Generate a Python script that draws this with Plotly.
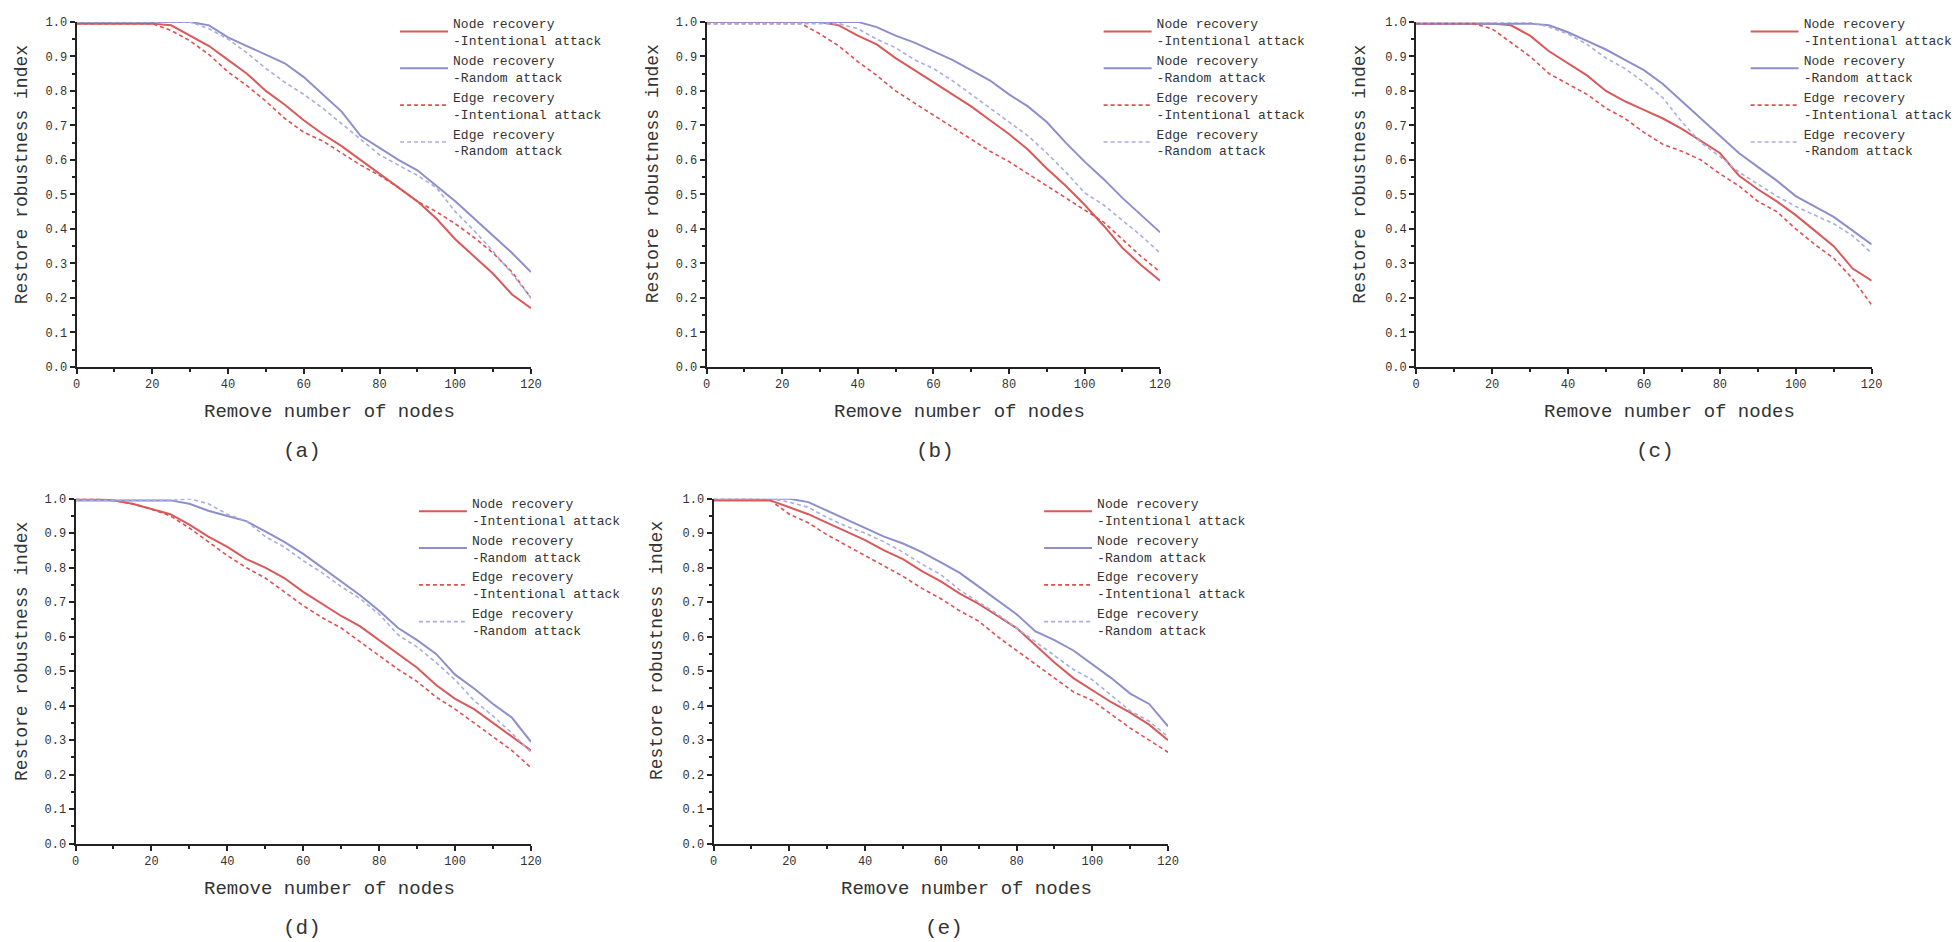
import plotly.graph_objects as go

W, H = 1960, 942
X = list(range(0, 121, 5))

# Panel (a)
A_NODE_INT = [0.995, 0.995, 0.995, 0.995, 0.995, 0.99, 0.96, 0.93, 0.89, 0.85, 0.80, 0.76, 0.715, 0.675, 0.64, 0.60, 0.56, 0.52, 0.48, 0.43, 0.37, 0.32, 0.27, 0.21, 0.17]
A_NODE_RND = [1.0, 1.0, 1.0, 1.0, 1.0, 1.0, 1.0, 0.99, 0.955, 0.93, 0.905, 0.88, 0.84, 0.79, 0.74, 0.67, 0.635, 0.60, 0.57, 0.525, 0.48, 0.43, 0.38, 0.33, 0.275]
A_EDGE_INT = [0.995, 0.995, 0.995, 0.995, 0.995, 0.975, 0.945, 0.905, 0.855, 0.815, 0.77, 0.72, 0.68, 0.655, 0.62, 0.585, 0.555, 0.52, 0.48, 0.45, 0.415, 0.375, 0.33, 0.275, 0.20]
A_EDGE_RND = [1.0, 1.0, 1.0, 1.0, 1.0, 1.0, 1.0, 0.98, 0.95, 0.91, 0.865, 0.825, 0.79, 0.75, 0.705, 0.66, 0.615, 0.585, 0.555, 0.52, 0.45, 0.395, 0.335, 0.27, 0.20]

# Panel (b)
B_NODE_INT = [1.0, 1.0, 1.0, 1.0, 1.0, 1.0, 1.0, 0.99, 0.96, 0.935, 0.895, 0.86, 0.825, 0.79, 0.755, 0.715, 0.675, 0.63, 0.575, 0.525, 0.47, 0.41, 0.345, 0.295, 0.25]
B_NODE_RND = [1.0, 1.0, 1.0, 1.0, 1.0, 1.0, 1.0, 1.0, 1.0, 0.985, 0.96, 0.94, 0.915, 0.89, 0.86, 0.83, 0.79, 0.755, 0.71, 0.65, 0.595, 0.545, 0.49, 0.44, 0.39]
B_EDGE_INT = [0.995, 0.995, 0.995, 0.995, 0.995, 0.995, 0.965, 0.93, 0.885, 0.845, 0.80, 0.765, 0.73, 0.695, 0.66, 0.625, 0.595, 0.56, 0.525, 0.49, 0.455, 0.42, 0.37, 0.32, 0.275]
B_EDGE_RND = [0.995, 0.995, 0.995, 0.995, 0.995, 0.995, 0.995, 0.995, 0.98, 0.95, 0.925, 0.89, 0.865, 0.83, 0.79, 0.75, 0.71, 0.67, 0.62, 0.565, 0.505, 0.47, 0.425, 0.38, 0.33]

# Panel (c)
C_NODE_INT = [0.995, 0.995, 0.995, 0.995, 0.995, 0.99, 0.96, 0.915, 0.88, 0.845, 0.80, 0.77, 0.745, 0.72, 0.69, 0.655, 0.62, 0.555, 0.515, 0.48, 0.44, 0.395, 0.35, 0.285, 0.25]
C_NODE_RND = [0.995, 0.995, 0.995, 0.995, 0.995, 0.995, 0.995, 0.99, 0.97, 0.945, 0.92, 0.89, 0.86, 0.82, 0.77, 0.72, 0.67, 0.62, 0.58, 0.54, 0.495, 0.465, 0.435, 0.395, 0.355]
C_EDGE_INT = [0.995, 0.995, 0.995, 0.995, 0.98, 0.94, 0.90, 0.85, 0.82, 0.79, 0.75, 0.72, 0.68, 0.645, 0.625, 0.60, 0.56, 0.525, 0.48, 0.45, 0.40, 0.355, 0.315, 0.255, 0.18]
C_EDGE_RND = [1.0, 1.0, 1.0, 1.0, 1.0, 1.0, 1.0, 0.985, 0.965, 0.935, 0.895, 0.865, 0.825, 0.78, 0.71, 0.65, 0.61, 0.565, 0.53, 0.495, 0.465, 0.44, 0.415, 0.38, 0.33]

# Panel (d)
D_NODE_INT = [1.0, 1.0, 0.995, 0.985, 0.97, 0.955, 0.925, 0.89, 0.86, 0.825, 0.80, 0.77, 0.73, 0.695, 0.66, 0.63, 0.59, 0.55, 0.51, 0.46, 0.42, 0.39, 0.35, 0.31, 0.27]
D_NODE_RND = [0.995, 0.995, 0.995, 0.995, 0.995, 0.995, 0.985, 0.965, 0.95, 0.935, 0.905, 0.875, 0.84, 0.80, 0.76, 0.72, 0.675, 0.625, 0.59, 0.55, 0.49, 0.45, 0.405, 0.365, 0.295]
D_EDGE_INT = [1.0, 1.0, 0.995, 0.985, 0.97, 0.95, 0.915, 0.875, 0.835, 0.80, 0.77, 0.73, 0.69, 0.655, 0.625, 0.585, 0.545, 0.505, 0.47, 0.425, 0.39, 0.35, 0.31, 0.27, 0.22]
D_EDGE_RND = [0.995, 0.995, 0.995, 0.995, 0.995, 0.995, 1.0, 0.985, 0.955, 0.935, 0.89, 0.86, 0.82, 0.785, 0.745, 0.71, 0.665, 0.605, 0.57, 0.525, 0.475, 0.415, 0.37, 0.32, 0.265]

# Panel (e)
E_NODE_INT = [0.995, 0.995, 0.995, 0.995, 0.975, 0.955, 0.93, 0.905, 0.88, 0.85, 0.825, 0.79, 0.76, 0.725, 0.695, 0.66, 0.625, 0.575, 0.525, 0.48, 0.445, 0.41, 0.38, 0.345, 0.30]
E_NODE_RND = [1.0, 1.0, 1.0, 1.0, 1.0, 0.99, 0.965, 0.94, 0.915, 0.89, 0.87, 0.845, 0.815, 0.785, 0.745, 0.705, 0.665, 0.615, 0.59, 0.56, 0.52, 0.48, 0.435, 0.405, 0.34]
E_EDGE_INT = [1.0, 1.0, 1.0, 0.995, 0.955, 0.93, 0.895, 0.865, 0.835, 0.805, 0.775, 0.74, 0.71, 0.675, 0.645, 0.60, 0.56, 0.52, 0.48, 0.44, 0.415, 0.375, 0.335, 0.30, 0.265]
E_EDGE_RND = [1.0, 1.0, 1.0, 1.0, 0.99, 0.975, 0.945, 0.92, 0.90, 0.875, 0.845, 0.81, 0.78, 0.735, 0.70, 0.665, 0.625, 0.585, 0.545, 0.505, 0.475, 0.43, 0.385, 0.355, 0.31]

SERIES_NAMES = ["Node recovery<br>-Intentional attack", "Node recovery<br>-Random attack",
                "Edge recovery<br>-Intentional attack", "Edge recovery<br>-Random attack"]
PANEL_LABELS = ["(a)", "(b)", "(c)", "(d)", "(e)"]
X_TITLE = "Remove number of nodes"
Y_TITLE = "Restore robustness index"
X_TICKS = [0, 20, 40, 60, 80, 100, 120]
Y_TICKS = [0.0, 0.1, 0.2, 0.3, 0.4, 0.5, 0.6, 0.7, 0.8, 0.9, 1.0]

PANELS = [
    [A_NODE_INT, A_NODE_RND, A_EDGE_INT, A_EDGE_RND],
    [B_NODE_INT, B_NODE_RND, B_EDGE_INT, B_EDGE_RND],
    [C_NODE_INT, C_NODE_RND, C_EDGE_INT, C_EDGE_RND],
    [D_NODE_INT, D_NODE_RND, D_EDGE_INT, D_EDGE_RND],
    [E_NODE_INT, E_NODE_RND, E_EDGE_INT, E_EDGE_RND],
]

STYLES = [
    dict(color="#d85a5a", width=2, dash="solid"),
    dict(color="#8d8fca", width=2, dash="solid"),
    dict(color="#e05050", width=1.6, dash="4px,3px"),
    dict(color="#a9aee0", width=1.6, dash="4px,3px"),
]

# layout geometry in pixels (x0, x1, ytop, ybottom)
GEOM = [
    (65, 523, 6, 357),
    (700, 1157, 6, 357),
    (1415, 1874, 6, 357),
    (64, 523, 491, 842),
    (707, 1165, 491, 842),
]
LEGEND_TEXT_X = [453, 1162, 1814, 472, 1102]
LEGEND_TOP = [-8, -8, -8, 480, 480]
XTITLE_X = [320, 955, 1670, 320, 962]
LABEL_X = [292, 930, 1656, 292, 939]
YTITLE_X = [10, 646, 1359, 10, 650]

FONT = "Liberation Mono"

fig = go.Figure()
for i, data in enumerate(PANELS):
    n = "" if i == 0 else str(i + 1)
    for j, ys in enumerate(data):
        fig.add_trace(go.Scatter(
            x=X, y=ys, mode="lines", name=SERIES_NAMES[j],
            line=STYLES[j], xaxis="x" + n, yaxis="y" + n,
            legend="legend" + n, legendgroup=f"g{i}_{j}",
        ))

layout = dict(
    width=W, height=H, paper_bgcolor="white", plot_bgcolor="white",
    margin=dict(l=0, r=0, t=0, b=0),
    font=dict(family=FONT, color="#333333"),
    annotations=[],
)
for i, (x0, x1, yt, yb) in enumerate(GEOM):
    n = "" if i == 0 else str(i + 1)
    layout["xaxis" + n] = dict(
        domain=[x0 / W, x1 / W], anchor="y" + n, range=[0, 120],
        tickvals=X_TICKS, ticks="outside", ticklen=5, tickwidth=1.5, tickcolor="#222",
        showline=True, linecolor="#222", linewidth=2, showgrid=False, zeroline=False,
        tickfont=dict(family=FONT, size=12, color="#333"),
        minor=dict(dtick=10, ticks="outside", ticklen=3, tickcolor="#222", showgrid=False),
    )
    layout["yaxis" + n] = dict(
        domain=[1 - yb / H, 1 - yt / H], anchor="x" + n, range=[0, 1.0],
        tickvals=Y_TICKS, tickformat=".1f", ticks="outside", ticklen=5, tickwidth=1.5,
        tickcolor="#222", showline=True, linecolor="#222", linewidth=2,
        showgrid=False, zeroline=False,
        tickfont=dict(family=FONT, size=12, color="#333"),
        minor=dict(dtick=0.05, ticks="outside", ticklen=3, tickcolor="#222", showgrid=False),
    )
    layout["legend" + n] = dict(
        x=(LEGEND_TEXT_X[i] - 67) / W, y=1 - LEGEND_TOP[i] / H,
        xanchor="left", yanchor="top", bgcolor="rgba(0,0,0,0)",
        font=dict(family=FONT, size=13, color="#333"),
        tracegroupgap=7, traceorder="normal", itemwidth=48,
    )
    layout["annotations"].append(dict(
        text=X_TITLE, x=XTITLE_X[i] / W, y=1 - (yb + 46) / H, xref="paper", yref="paper",
        showarrow=False, xanchor="center", yanchor="middle",
        font=dict(family=FONT, size=19, color="#333")))
    layout["annotations"].append(dict(
        text=PANEL_LABELS[i], x=LABEL_X[i] / W, y=1 - (yb + 86) / H, xref="paper", yref="paper",
        showarrow=False, xanchor="center", yanchor="middle",
        font=dict(family=FONT, size=21, color="#333")))
    layout["annotations"].append(dict(
        text=Y_TITLE, x=YTITLE_X[i] / W, y=1 - (yt + 155) / H, xref="paper", yref="paper",
        showarrow=False, xanchor="center", yanchor="middle", textangle=-90,
        font=dict(family=FONT, size=18, color="#333")))

fig.update_layout(**layout)
fig.write_html("out.html")
